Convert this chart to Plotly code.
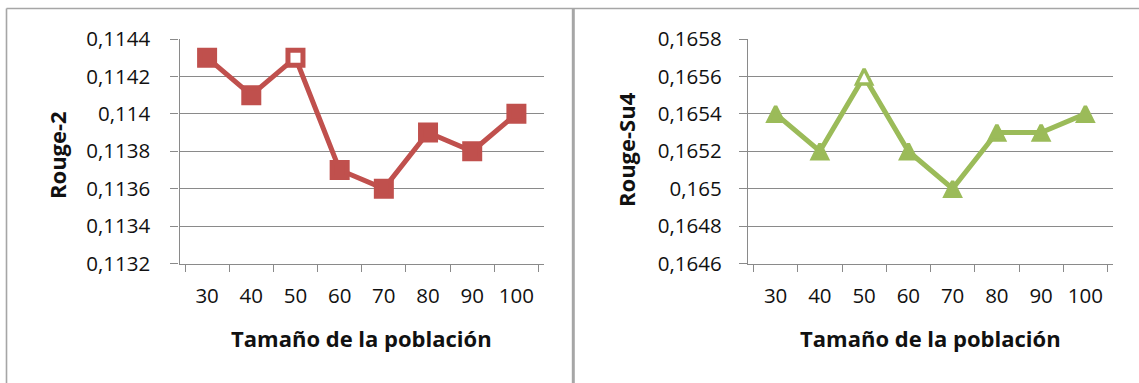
import plotly.graph_objects as go

# Population sizes on the x axis (shared by both panels)
poblacion = ["30", "40", "50", "60", "70", "80", "90", "100"]

# ROUGE-2 scores per population size
rouge2 = [0.1143, 0.1141, 0.1143, 0.1137, 0.1136, 0.1139, 0.1138, 0.1140]
rouge2_ticks = [0.1132, 0.1134, 0.1136, 0.1138, 0.1140, 0.1142, 0.1144]
rouge2_ticktext = ["0,1132", "0,1134", "0,1136", "0,1138", "0,114", "0,1142", "0,1144"]

# ROUGE-SU4 scores per population size
rougesu4 = [0.1654, 0.1652, 0.1656, 0.1652, 0.1650, 0.1653, 0.1653, 0.1654]
rougesu4_ticks = [0.1646, 0.1648, 0.1650, 0.1652, 0.1654, 0.1656, 0.1658]
rougesu4_ticktext = ["0,1646", "0,1648", "0,165", "0,1652", "0,1654", "0,1656", "0,1658"]

# point drawn with an open marker
punto_abierto = "50"

W, H = 1139, 383
RED = "#C0504D"
GREEN = "#9BBB59"
GRID = "#8a8a8a"
BORDER = "#a6a6a6"
FONT = "Open Sans"


def fills(color):
    return ["white" if p == punto_abierto else color for p in poblacion]


fig = go.Figure()

fig.add_trace(go.Scatter(
    x=poblacion, y=rouge2, mode="lines+markers",
    line=dict(color=RED, width=5),
    marker=dict(symbol="square", size=15, color=fills(RED),
                line=dict(color=RED, width=5)),
    xaxis="x", yaxis="y", showlegend=False, cliponaxis=False,
))

tri_size = 15
fig.add_trace(go.Scatter(
    x=poblacion, y=rougesu4, mode="lines+markers",
    line=dict(color=GREEN, width=5),
    marker=dict(symbol="arrow-down", angle=180, standoff=tri_size / 2,
                size=tri_size, color=fills(GREEN),
                line=dict(color=GREEN, width=3.5)),
    xaxis="x2", yaxis="y2", showlegend=False, cliponaxis=False,
))

# plot-area placement in pixels
left_px = (179.5, 544.0)
right_px = (748.0, 1113.0)
top_px, bottom_px = 39.0, 263.5
ydom = [1 - bottom_px / H, 1 - top_px / H]

tickfont = dict(family=FONT, size=20.5, color="#111111")

xcommon = dict(
    type="category", tickson="boundaries", ticks="outside", ticklen=7,
    tickwidth=1.3, tickcolor=GRID, showline=True, linecolor=GRID,
    linewidth=1.3, showgrid=False, zeroline=False, tickfont=tickfont,
    tickangle=0, ticklabelstandoff=14, fixedrange=True,
)
ycommon = dict(
    ticks="outside", ticklen=8, tickwidth=1.3, tickcolor=GRID,
    showline=True, linecolor=GRID, linewidth=1.3, showgrid=True,
    gridcolor=GRID, gridwidth=1.3, zeroline=False, tickfont=tickfont,
    fixedrange=True,
)

fig.update_layout(
    width=W, height=H, autosize=False,
    margin=dict(l=0, r=0, t=0, b=0, pad=0, autoexpand=False),
    paper_bgcolor="white", plot_bgcolor="white",
    font=dict(family=FONT, color="#111111"),
    xaxis=dict(domain=[left_px[0] / W, left_px[1] / W], anchor="y", **xcommon),
    yaxis=dict(domain=ydom, anchor="x", range=[rouge2_ticks[0], rouge2_ticks[-1]],
               tickvals=rouge2_ticks, ticktext=rouge2_ticktext,
               ticklabelstandoff=16, **ycommon),
    xaxis2=dict(domain=[right_px[0] / W, right_px[1] / W], anchor="y2", **xcommon),
    yaxis2=dict(domain=ydom, anchor="x2", range=[rougesu4_ticks[0], rougesu4_ticks[-1]],
                tickvals=rougesu4_ticks, ticktext=rougesu4_ticktext,
                ticklabelstandoff=13, **ycommon),
)

titlefont = dict(family=FONT, size=22, color="#111111", weight="bold")
xt_y = 1 - 338 / H
fig.add_annotation(text="Tamaño de la población", xref="paper", yref="paper",
                   x=sum(left_px) / 2 / W, y=xt_y, showarrow=False,
                   font=titlefont, xanchor="center", yanchor="middle")
fig.add_annotation(text="Tamaño de la población", xref="paper", yref="paper",
                   x=sum(right_px) / 2 / W, y=xt_y, showarrow=False,
                   font=titlefont, xanchor="center", yanchor="middle")
fig.add_annotation(text="Rouge-2", xref="paper", yref="paper",
                   x=57 / W, y=1 - 155 / H, textangle=-90, showarrow=False,
                   font=titlefont, xanchor="center", yanchor="middle")
fig.add_annotation(text="Rouge-Su4", xref="paper", yref="paper",
                   x=626 / W, y=1 - 150 / H, textangle=-90, showarrow=False,
                   font=titlefont, xanchor="center", yanchor="middle")

# chart frames: outer top/left border and the divider between the panels
top_y = 1 - 8.5 / H
fig.add_shape(type="line", xref="paper", yref="paper", x0=6.5 / W, x1=1.0,
              y0=top_y, y1=top_y, line=dict(color=BORDER, width=1.6))
fig.add_shape(type="line", xref="paper", yref="paper", x0=6.5 / W, x1=6.5 / W,
              y0=0, y1=top_y, line=dict(color=BORDER, width=1.6))
fig.add_shape(type="line", xref="paper", yref="paper", x0=573.3 / W, x1=573.3 / W,
              y0=0, y1=top_y, line=dict(color=BORDER, width=3))

fig.write_html("out.html", config={"responsive": False})
